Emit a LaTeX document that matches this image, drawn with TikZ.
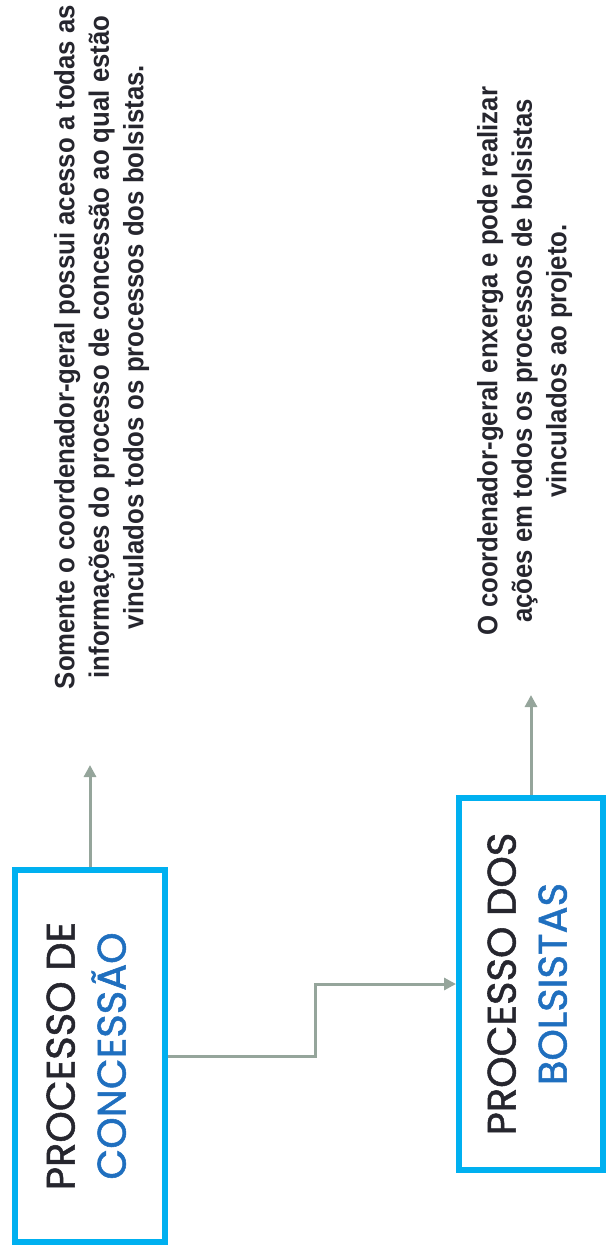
\documentclass[tikz,border=0pt]{standalone}
\usepackage{fontspec}
\usepackage{tikz}
\usetikzlibrary{arrows.meta}
\setmainfont{Liberation Sans}
\newfontfamily\boxfont[FakeBold=1.3]{Poppins}
\newfontfamily\notafont[FakeStretch=0.92]{Liberation Sans}
\definecolor{caixa}{HTML}{00B0F0}
\definecolor{seta}{HTML}{95A59B}
\definecolor{escuro}{HTML}{26262E}
\definecolor{azul}{HTML}{1F6FBF}
\tikzset{
  processo/.style={draw=caixa, line width=6pt, fill=white, inner sep=0pt,
    text=escuro, font=\boxfont\fontsize{40}{51}\selectfont},
  nota/.style={inner sep=0pt, text=escuro, font=\notafont\bfseries\fontsize{28}{34.5}\selectfont},
  liga/.style={draw=seta, line width=3pt, -{Triangle[length=12pt,width=12pt]}}
}
\begin{document}
\begin{tikzpicture}[x=1pt,y=-1pt]
\useasboundingbox (0,0) rectangle (608,1256);
% caixas
\node[processo, minimum width=150pt, minimum height=372pt] (concessao) at (90,1056)
  {\rotatebox{90}{\begin{tabular}{@{}c@{}}PROCESSO DE\\\textcolor{azul}{CONCESSÃO}\end{tabular}}};
\node[processo, minimum width=144pt, minimum height=372pt] (bolsistas) at (531,984)
  {\rotatebox{90}{\begin{tabular}{@{}c@{}}PROCESSO DOS\\\textcolor{azul}{BOLSISTAS}\end{tabular}}};
% notas
\node[nota] (notaConcessao) at (102,347)
  {\rotatebox{90}{\begin{tabular}{@{}c@{}}Somente o coordenador-geral possui acesso a todas as\\informações do processo de concessão ao qual estão\\vinculados todos os processos dos bolsistas.\end{tabular}}};
\node[nota] (notaBolsistas) at (525,361)
  {\rotatebox{90}{\begin{tabular}{@{}c@{}}O coordenador-geral enxerga e pode realizar\\ações em todos os processos de bolsistas\\vinculados ao projeto.\end{tabular}}};
% setas
\coordinate (topoConcessao) at (90,765);
\coordinate (topoBolsistas) at (531,695);
\draw[liga] (concessao.north) -- (topoConcessao);
\draw[liga] (bolsistas.north) -- (topoBolsistas);
\draw[liga] (concessao.east) -- ++(147,0) |- (bolsistas.west);
\end{tikzpicture}
\end{document}
